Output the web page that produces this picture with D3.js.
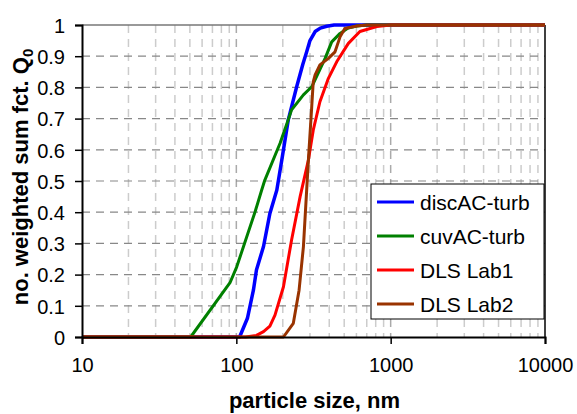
<!DOCTYPE html>
<html>
<head>
<meta charset="utf-8">
<script src="https://cdn.jsdelivr.net/npm/d3@7"></script>
<style>
  body { margin: 0; background: #fff; }
  text { font-family: "Liberation Sans", Arial, sans-serif; }
</style>
</head>
<body>
<svg id="mainsvg"></svg>
<script>
// particle size (nm) / cumulative fraction pairs
let seriesNames = ["discAC-turb", "cuvAC-turb", "DLS Lab1", "DLS Lab2"];
let seriesColors = ["#0000ff", "#008000", "#ff0000", "#993300"];

let discSize = [10, 105, 118, 129, 135, 150, 165, 183, 197, 217, 246, 270, 286, 300, 324, 350, 385, 430, 10000];
let discQ    = [0, 0, 0.06, 0.15, 0.215, 0.29, 0.396, 0.471, 0.567, 0.696, 0.802, 0.875, 0.915, 0.95, 0.979, 0.99, 0.996, 1, 1];

let cuvSize = [10, 50.6, 91, 100.6, 132, 146, 153, 192, 217, 228, 272, 308, 376, 415, 470, 530, 603, 700, 10000];
let cuvQ    = [0, 0, 0.174, 0.225, 0.40, 0.471, 0.503, 0.621, 0.696, 0.728, 0.776, 0.802, 0.893, 0.946, 0.973, 0.99, 0.997, 1, 1];

let lab1Size = [10, 115, 135, 150, 165, 178, 202, 228, 259, 293, 315, 348, 395, 447, 532, 632, 813, 1000, 10000];
let lab1Q    = [0, 0, 0.005, 0.017, 0.035, 0.07, 0.161, 0.311, 0.45, 0.567, 0.663, 0.754, 0.829, 0.882, 0.941, 0.979, 0.995, 1, 1];

let lab2Size = [10, 202, 234, 255, 272, 293, 308, 315, 324, 348, 395, 436, 470, 505, 603, 700, 10000];
let lab2Q    = [0, 0, 0.044, 0.15, 0.289, 0.567, 0.738, 0.818, 0.84, 0.872, 0.893, 0.914, 0.962, 0.989, 0.997, 1, 1];

let xTicks = [10, 100, 1000, 10000];
let yTicks = [0, 0.1, 0.2, 0.3, 0.4, 0.5, 0.6, 0.7, 0.8, 0.9, 1];

let svgWidth = 577, svgHeight = 414,
    margin = {top: 25, right: 32, bottom: 77, left: 82},
    width = svgWidth - margin.left - margin.right,
    height = svgHeight - margin.top - margin.bottom;

let mainsvg = d3.select("#mainsvg").attr("width", svgWidth).attr("height", svgHeight);
let g = mainsvg.append("g").attr("transform", `translate(${margin.left},${margin.top})`);

let scaleX = d3.scaleLog().domain([10, 10000]).range([0, width]);
let scaleY = d3.scaleLinear().domain([0, 1]).range([height, 0]);

// vertical grid: minor decades lighter, majors a bit darker
let minorX = [];
[10, 100, 1000].forEach(dec => { for (let k = 2; k <= 9; k++) minorX.push(dec * k); });
g.append("g").selectAll("line").data(minorX).enter().append("line")
    .attr("x1", d => scaleX(d)).attr("x2", d => scaleX(d))
    .attr("y1", 0).attr("y2", height)
    .attr("stroke", "#cccccc").attr("stroke-width", 1.5)
    .attr("stroke-dasharray", "8,6");
g.append("g").selectAll("line").data([100, 1000]).enter().append("line")
    .attr("x1", d => scaleX(d)).attr("x2", d => scaleX(d))
    .attr("y1", 0).attr("y2", height)
    .attr("stroke", "#aaaaaa").attr("stroke-width", 1.5)
    .attr("stroke-dasharray", "8,6");

// horizontal grid
g.append("g").selectAll("line").data(yTicks.slice(1, -1)).enter().append("line")
    .attr("x1", 0).attr("x2", width)
    .attr("y1", d => scaleY(d)).attr("y2", d => scaleY(d))
    .attr("stroke", "#888888").attr("stroke-width", 1.2)
    .attr("stroke-dasharray", "8,6");

// frame top/right
g.append("line").attr("x1", 0).attr("x2", width).attr("y1", 0).attr("y2", 0)
    .attr("stroke", "#777").attr("stroke-width", 1.5);
g.append("line").attr("x1", width).attr("x2", width).attr("y1", 0).attr("y2", height)
    .attr("stroke", "#000").attr("stroke-width", 1.5);

// curves
let allSeries = [
    {size: discSize, q: discQ},
    {size: cuvSize, q: cuvQ},
    {size: lab1Size, q: lab1Q},
    {size: lab2Size, q: lab2Q}
];
let line = d3.line().x(d => scaleX(d[0])).y(d => scaleY(d[1]));
allSeries.forEach((s, i) => {
    let pts = s.size.map((v, j) => [v, s.q[j]]);
    g.append("path").datum(pts)
        .attr("d", line)
        .attr("fill", "none")
        .attr("stroke", seriesColors[i])
        .attr("stroke-width", i === 0 ? 3.5 : 3)
        .attr("stroke-linejoin", "round");
});

// axes
let xAxis = g.append("g").attr("transform", `translate(0,${height})`)
    .call(d3.axisBottom(scaleX).tickValues(xTicks).tickFormat(d3.format("d")).tickSize(7).tickPadding(14));
let yAxis = g.append("g")
    .call(d3.axisLeft(scaleY).tickValues(yTicks)
        .tickFormat(d => (d === 0 || d === 1) ? d : d.toFixed(1)).tickSize(7).tickPadding(10));
[xAxis, yAxis].forEach(ax => {
    ax.select(".domain").attr("stroke", "#000").attr("stroke-width", 2);
    ax.selectAll(".tick line").attr("stroke", "#000").attr("stroke-width", 1.5);
    ax.selectAll("text").attr("font-size", 20).attr("fill", "#000")
        .attr("font-family", "'Liberation Sans', Arial, sans-serif");
});
yAxis.selectAll("text").attr("dy", "0.36em");

// axis titles
mainsvg.append("text")
    .attr("x", margin.left + width / 2 + 1).attr("y", 408)
    .attr("text-anchor", "middle")
    .attr("font-size", 22).attr("font-weight", "bold")
    .text("particle size, nm");

let yTitle = mainsvg.append("text")
    .attr("transform", `translate(28,${margin.top + height / 2 - 4}) rotate(-90)`)
    .attr("text-anchor", "middle")
    .attr("font-size", 22).attr("font-weight", "bold");
yTitle.append("tspan").text("no. weighted sum fct. Q");
yTitle.append("tspan").attr("font-size", 15).attr("dy", 5).text("0");

// legend
let legend = mainsvg.append("g").attr("transform", "translate(371,184)");
legend.append("rect").attr("width", 173).attr("height", 135)
    .attr("fill", "#fff").attr("stroke", "#000").attr("stroke-width", 1);
let item = legend.selectAll("g.item").data(seriesNames).enter().append("g")
    .attr("class", "item")
    .attr("transform", (d, i) => `translate(0,${18 + i * 34})`);
item.append("line").attr("x1", 6).attr("x2", 43).attr("y1", 0).attr("y2", 0)
    .attr("stroke", (d, i) => seriesColors[i]).attr("stroke-width", 3);
item.append("text").attr("x", 49).attr("y", 0).attr("dy", "0.36em")
    .attr("font-size", 21).text(d => d);
</script>
</body>
</html>
